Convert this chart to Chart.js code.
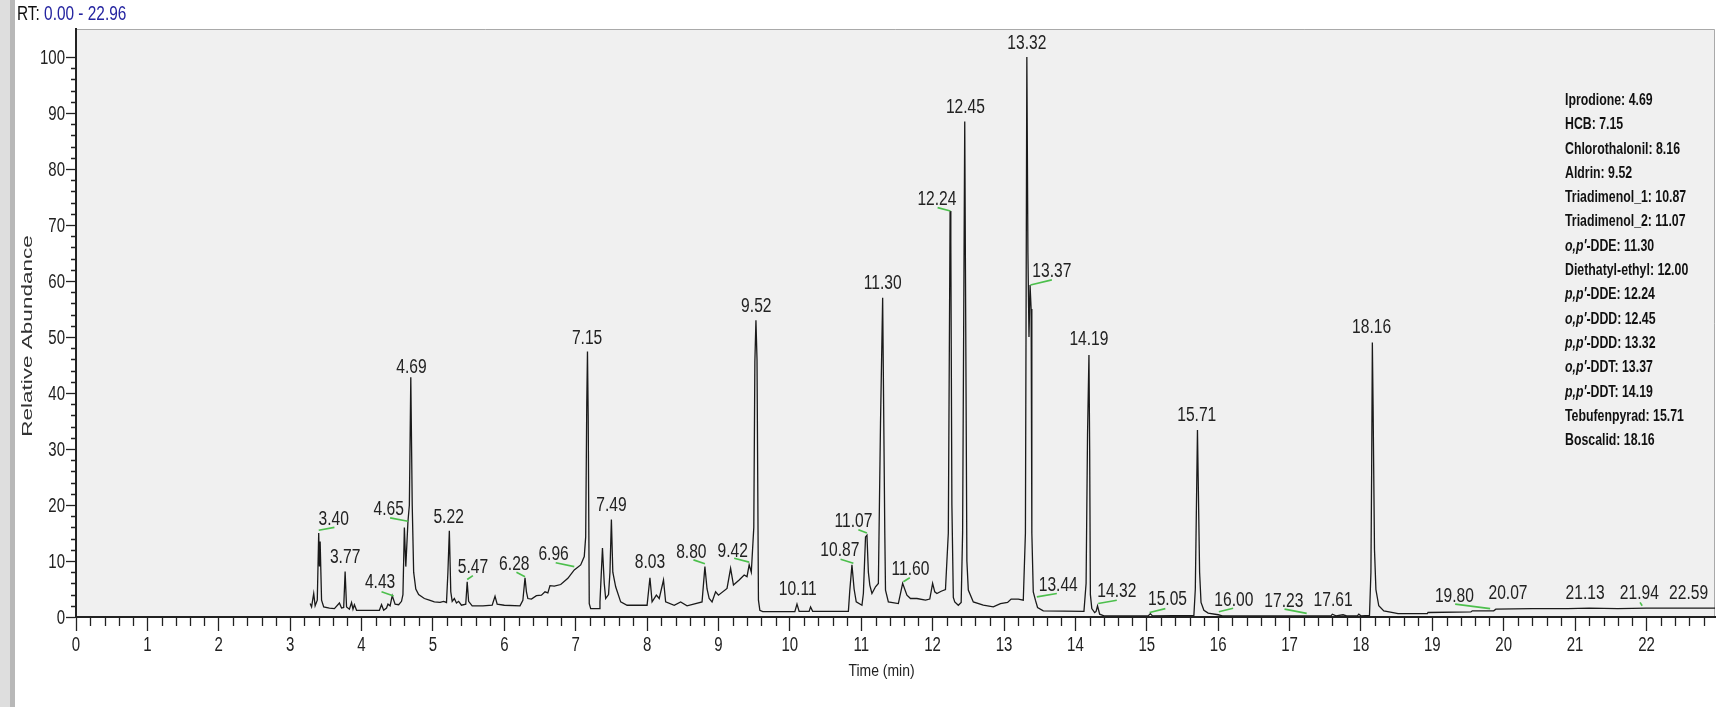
<!DOCTYPE html>
<html>
<head>
<meta charset="utf-8">
<script src="https://cdn.jsdelivr.net/npm/chart.js@4.4.0/dist/chart.umd.min.js"></script>
<style>
  body { margin: 0; width: 1716px; height: 707px; overflow: hidden; background: #fff; position: relative; }
  canvas { position: absolute; left: 0; top: 0; }
  .strip1 { position: absolute; left: 0; top: 0; width: 10px; height: 707px; background: #dedede; }
  .strip2 { position: absolute; left: 10px; top: 0; width: 5px; height: 707px; background: #b8b8b8; }
  .rt { position: absolute; left: 17px; top: 2px; font: 20px 'Liberation Sans', Arial, sans-serif; color: #111;
        white-space: nowrap; transform: scaleX(0.77); transform-origin: 0 0; }
  .rt span { color: #2424a0; }
  .legend { position: absolute; left: 1565px; top: 88px; font: bold 16px 'Liberation Sans', Arial, sans-serif; color: #111;
            line-height: 24.3px; white-space: nowrap; transform: scaleX(0.77); transform-origin: 0 0; }
</style>
</head>
<body>
<canvas id="chromChart" width="1716" height="707"></canvas>
<div class="strip1"></div><div class="strip2"></div>
<div class="rt">RT: <span>0.00 - 22.96</span></div>
<div class="legend">
  Iprodione: 4.69<br>
  HCB: 7.15<br>
  Chlorothalonil: 8.16<br>
  Aldrin: 9.52<br>
  Triadimenol_1: 10.87<br>
  Triadimenol_2: 11.07<br>
  <i>o,p′</i>-DDE: 11.30<br>
  Diethatyl-ethyl: 12.00<br>
  <i>p,p′</i>-DDE: 12.24<br>
  <i>o,p′</i>-DDD: 12.45<br>
  <i>p,p′</i>-DDD: 13.32<br>
  <i>o,p′</i>-DDT: 13.37<br>
  <i>p,p′</i>-DDT: 14.19<br>
  Tebufenpyrad: 15.71<br>
  Boscalid: 18.16
</div>
<script>
// trace: retention time (min) and relative abundance (%)
const rtMin = [
  3.28, 3.30, 3.33, 3.35, 3.38, 3.40, 3.41, 3.42, 3.44, 3.47, 3.55, 3.62, 3.69, 3.72, 3.75, 3.77, 3.79, 3.83, 3.86, 3.88,
  3.90, 3.93, 4.00, 4.25, 4.28, 4.31, 4.35, 4.37, 4.40, 4.43, 4.47, 4.52, 4.56, 4.58, 4.60, 4.62, 4.65, 4.67, 4.69, 4.71,
  4.73, 4.76, 4.80, 4.88, 4.95, 5.02, 5.10, 5.15, 5.19, 5.21, 5.23, 5.25, 5.27, 5.30, 5.33, 5.36, 5.40, 5.46, 5.48, 5.50,
  5.55, 5.70, 5.83, 5.87, 5.90, 6.00, 6.22, 6.26, 6.29, 6.31, 6.33, 6.38, 6.45, 6.52, 6.57, 6.61, 6.64, 6.70, 6.79, 6.89,
  6.98, 7.07, 7.12, 7.14, 7.155, 7.165, 7.175, 7.19, 7.21, 7.33, 7.34, 7.375, 7.40, 7.42, 7.46, 7.48, 7.50, 7.52, 7.56, 7.63,
  7.72, 8.00, 8.04, 8.07, 8.13, 8.17, 8.23, 8.26, 8.38, 8.47, 8.56, 8.77, 8.81, 8.84, 8.87, 8.91, 8.96, 9.00, 9.12, 9.17,
  9.21, 9.29, 9.36, 9.40, 9.43, 9.46, 9.495, 9.51, 9.525, 9.54, 9.56, 9.58, 9.62, 10.07, 10.10, 10.13, 10.27, 10.29, 10.32, 10.82,
  10.84, 10.87, 10.90, 10.93, 11.01, 11.03, 11.06, 11.08, 11.10, 11.12, 11.15, 11.20, 11.24, 11.27, 11.30, 11.33, 11.34, 11.38, 11.52, 11.58,
  11.64, 11.69, 11.78, 11.90, 11.96, 12.00, 12.03, 12.06, 12.12, 12.18, 12.22, 12.245, 12.255, 12.27, 12.29, 12.31, 12.36, 12.40, 12.42, 12.45,
  12.46, 12.48, 12.50, 12.57, 12.71, 12.85, 12.95, 13.05, 13.10, 13.20, 13.27, 13.30, 13.32, 13.335, 13.35, 13.365, 13.38, 13.39, 13.41, 13.44,
  13.47, 13.55, 14.12, 14.15, 14.17, 14.19, 14.20, 14.21, 14.23, 14.27, 14.29, 14.31, 14.34, 14.40, 15.02, 15.05, 15.08, 15.66, 15.68, 15.70,
  15.71, 15.72, 15.74, 15.76, 15.80, 15.86, 16.00, 16.06, 17.58, 17.60, 17.65, 17.75, 17.80, 17.95, 17.97, 18.00, 18.12, 18.14, 18.15, 18.16,
  18.17, 18.19, 18.21, 18.25, 18.32, 18.45, 18.52, 18.93, 18.94, 19.54, 19.56, 19.86, 19.89, 20.40, 20.90, 21.20, 21.60, 22.00, 22.50, 22.96
];
const abundance = [
  2.4, 1.8, 4.2, 2.0, 3.0, 15.0, 9.0, 13.5, 3.0, 1.8, 1.6, 1.5, 2.5, 1.6, 1.7, 8.1, 1.8, 1.4, 2.6, 1.4,
  2.2, 1.2, 1.2, 1.2, 2.2, 1.2, 1.6, 2.3, 2.0, 3.8, 2.3, 2.2, 2.8, 4.0, 16.0, 9.0, 17.0, 20.0, 42.8, 20.0,
  8.0, 5.0, 4.0, 3.3, 3.0, 2.7, 2.6, 2.8, 2.6, 8.0, 15.4, 4.5, 2.8, 3.3, 2.5, 2.8, 2.1, 2.3, 6.3, 2.8,
  2.0, 2.0, 2.1, 3.7, 2.3, 2.1, 2.0, 3.0, 7.0, 4.5, 3.3, 3.2, 3.8, 3.9, 4.5, 4.3, 5.6, 5.5, 5.8, 6.9,
  8.4, 9.3, 10.8, 14.3, 38.0, 47.4, 36.0, 2.4, 1.5, 1.5, 2.7, 12.3, 6.0, 3.3, 4.0, 8.0, 17.4, 8.0, 5.4, 2.7,
  2.1, 2.1, 7.0, 2.7, 3.9, 3.3, 6.6, 2.7, 2.1, 2.7, 2.0, 2.7, 9.0, 5.0, 3.3, 2.7, 4.5, 3.9, 5.1, 8.7,
  5.7, 6.6, 7.5, 7.2, 9.3, 8.0, 16.0, 45.6, 53.0, 46.0, 3.0, 1.2, 0.95, 0.95, 2.3, 1.0, 1.0, 1.8, 1.0, 1.0,
  4.8, 9.3, 5.0, 2.7, 2.1, 4.2, 14.3, 14.6, 8.0, 5.7, 4.2, 5.4, 6.0, 34.6, 57.0, 15.0, 4.8, 2.7, 2.4, 6.0,
  3.9, 3.3, 3.3, 3.0, 3.2, 6.0, 4.5, 4.2, 4.6, 4.9, 15.0, 72.5, 67.0, 20.0, 3.5, 2.7, 2.1, 2.6, 15.0, 88.5,
  62.0, 10.0, 4.8, 2.7, 2.1, 1.8, 2.4, 2.6, 3.2, 3.2, 3.0, 15.0, 100.0, 65.0, 50.0, 59.3, 55.0, 15.0, 4.5, 3.0,
  1.7, 1.1, 1.0, 6.0, 32.5, 46.8, 30.0, 4.0, 1.5, 0.8, 1.0, 2.0, 0.5, 0.2, 0.2, 0.6, 0.2, 0.3, 5.0, 23.9,
  33.4, 25.0, 8.0, 2.6, 1.2, 0.7, 0.4, 0.2, 0.2, 0.5, 0.2, 0.4, 0.2, 0.2, 0.5, 0.2, 0.3, 8.0, 25.7, 49.0,
  38.0, 12.0, 4.9, 2.0, 1.1, 0.8, 0.6, 0.6, 0.8, 0.9, 1.1, 1.1, 1.4, 1.5, 1.5, 1.6, 1.5, 1.6, 1.6, 1.6
];

// peak annotations: text, label centre time, label baseline abundance
const peakText = ['3.40', '3.77', '4.43', '4.65', '4.69', '5.22', '5.47', '6.28', '6.96', '7.15', '7.49', '8.03', '8.80', '9.42',
  '9.52', '10.11', '10.87', '11.07', '11.30', '11.60', '12.24', '12.45', '13.32', '13.37', '13.44', '14.19', '14.32', '15.05',
  '15.71', '16.00', '17.23', '17.61', '18.16', '19.80', '20.07', '21.13', '21.94', '22.59'];
const peakTextRt = [3.61, 3.77, 4.26, 4.38, 4.70, 5.22, 5.56, 6.14, 6.69, 7.16, 7.50, 8.04, 8.62, 9.20,
  9.53, 10.11, 10.70, 10.89, 11.30, 11.69, 12.06, 12.46, 13.32, 13.67, 13.76, 14.19, 14.58, 15.29,
  15.70, 16.22, 16.92, 17.61, 18.15, 19.31, 20.06, 21.14, 21.90, 22.59];
const peakTextAb = [16.4, 9.6, 5.1, 18.3, 43.6, 16.7, 7.8, 8.4, 10.2, 48.8, 19.0, 8.7, 10.6, 10.8,
  54.5, 3.9, 10.9, 16.0, 58.5, 7.5, 73.6, 90.0, 101.5, 60.7, 4.6, 48.6, 3.6, 2.1,
  35.0, 2.0, 1.8, 2.0, 50.7, 2.6, 3.2, 3.2, 3.2, 3.2];

// green marker strokes under offset labels: [rt1, ab1, rt2, ab2]
const markerLines = [
  [3.40, 15.5, 3.62, 16.0], [4.28, 4.5, 4.45, 3.75], [4.40, 17.7, 4.65, 17.1], [5.48, 6.7, 5.56, 7.4],
  [6.17, 8.0, 6.29, 7.2], [6.72, 9.7, 6.98, 9.0], [8.65, 10.2, 8.81, 9.5], [9.22, 10.5, 9.43, 9.8],
  [10.71, 10.3, 10.89, 9.6], [10.96, 15.6, 11.08, 15.0], [11.59, 6.3, 11.68, 7.0], [12.07, 73.1, 12.25, 72.5],
  [13.37, 59.3, 13.67, 60.2], [13.46, 3.6, 13.74, 4.2], [14.32, 2.4, 14.58, 3.0], [15.04, 0.8, 15.26, 1.5],
  [16.01, 0.95, 16.21, 1.55], [16.93, 1.4, 17.24, 0.65], [19.32, 2.3, 19.81, 1.5], [21.91, 2.6, 21.94, 2.0]
];

const xTickLabels = ['0', '1', '2', '3', '4', '5', '6', '7', '8', '9', '10', '11', '12', '13', '14', '15', '16', '17', '18', '19', '20', '21', '22'];
const yTickLabels = ['0', '10', '20', '30', '40', '50', '60', '70', '80', '90', '100'];

const FONT = "'Liberation Sans', Arial, sans-serif";

// text squeezed horizontally, the way the instrument software prints it
function squeezed(ctx, text, px, py, size, sx, align, baseline) {
  ctx.save();
  ctx.translate(px, py);
  ctx.scale(sx, 1);
  ctx.font = size + 'px ' + FONT;
  ctx.textAlign = align;
  ctx.textBaseline = baseline;
  ctx.fillText(text, 0, 0);
  ctx.restore();
}

const chromPlugin = {
  id: 'chrom',
  beforeDraw(chart) {
    const { ctx, chartArea: a } = chart;
    ctx.save();
    ctx.fillStyle = '#f0f0f0';
    ctx.fillRect(a.left, a.top, a.right - a.left, a.bottom - a.top);
    ctx.strokeStyle = '#a9a9a9';
    ctx.lineWidth = 1;
    ctx.beginPath();
    ctx.moveTo(a.left, a.top + 0.5);
    ctx.lineTo(a.right - 0.5, a.top + 0.5);
    ctx.lineTo(a.right - 0.5, a.bottom);
    ctx.stroke();
    ctx.restore();
  },
  afterDraw(chart) {
    const { ctx, scales: { x, y }, chartArea: a } = chart;
    ctx.save();
    // minor ticks
    ctx.strokeStyle = '#222';
    ctx.lineWidth = 1.3;
    ctx.beginPath();
    for (let i = 1; i * 0.2 <= 22.96; i++) {
      if (i % 5 === 0) continue;
      const px = Math.round(x.getPixelForValue(i * 0.2)) + 0.5;
      ctx.moveTo(px, a.bottom);
      ctx.lineTo(px, a.bottom + 9);
    }
    for (let j = 1; j < 50; j++) {
      if (j % 5 === 0) continue;
      const py = Math.round(y.getPixelForValue(j * 2)) + 0.5;
      ctx.moveTo(a.left - 5, py);
      ctx.lineTo(a.left, py);
    }
    ctx.stroke();

    // tick labels and x title
    ctx.fillStyle = '#222';
    xTickLabels.forEach(l => squeezed(ctx, l, x.getPixelForValue(Number(l)), a.bottom + 28, 20, 0.75, 'center', 'middle'));
    yTickLabels.forEach(l => squeezed(ctx, l, a.left - 11, y.getPixelForValue(Number(l)) + 1, 20, 0.75, 'right', 'middle'));
    squeezed(ctx, 'Time (min)', (a.left + a.right) / 2 - 14, 671, 17, 0.82, 'center', 'middle');

    // green markers
    ctx.strokeStyle = '#4cbf4c';
    ctx.lineWidth = 1.6;
    markerLines.forEach(m => {
      ctx.beginPath();
      ctx.moveTo(x.getPixelForValue(m[0]), y.getPixelForValue(m[1]));
      ctx.lineTo(x.getPixelForValue(m[2]), y.getPixelForValue(m[3]));
      ctx.stroke();
    });

    // peak labels
    ctx.fillStyle = '#222';
    peakText.forEach((t, i) => {
      squeezed(ctx, t, x.getPixelForValue(peakTextRt[i]), y.getPixelForValue(peakTextAb[i]), 20, 0.78, 'center', 'alphabetic');
    });

    // y axis title, stretched along its length like the original
    ctx.translate(28, (a.top + a.bottom) / 2 + 13);
    ctx.rotate(-Math.PI / 2);
    ctx.scale(1.5, 1);
    ctx.font = '15px ' + FONT;
    ctx.textAlign = 'center';
    ctx.textBaseline = 'middle';
    ctx.fillStyle = '#333';
    ctx.fillText('Relative Abundance', 0, 0);
    ctx.restore();
  }
};

const ctx = document.getElementById('chromChart');
new Chart(ctx, {
  type: 'line',
  data: {
    datasets: [{
      data: rtMin.map((t, i) => ({ x: t, y: abundance[i] })),
      borderColor: '#1a1a1a',
      borderWidth: 1.3,
      pointRadius: 0,
      tension: 0,
      fill: false
    }]
  },
  options: {
    responsive: false,
    animation: false,
    layout: { padding: { top: 29, right: 1, left: 0, bottom: 0 } },
    plugins: { legend: { display: false }, tooltip: { enabled: false } },
    scales: {
      x: {
        type: 'linear',
        min: 0,
        max: 22.96,
        afterBuildTicks: s => { s.ticks = xTickLabels.map(v => ({ value: Number(v) })); },
        afterFit: s => { s.height = 90; },
        grid: { display: true, drawOnChartArea: false, tickLength: 14, tickColor: '#222', tickWidth: 1.3 },
        border: { display: true, color: '#222', width: 2 },
        ticks: { display: false }
      },
      y: {
        min: 0,
        max: 105,
        afterBuildTicks: s => { s.ticks = yTickLabels.map(v => ({ value: Number(v) })); },
        afterFit: s => { s.width = 76; },
        grid: { display: true, drawOnChartArea: false, tickLength: 10, tickColor: '#222', tickWidth: 1.3 },
        border: { display: true, color: '#222', width: 2 },
        ticks: { display: false }
      }
    }
  },
  plugins: [chromPlugin]
});
</script>
</body>
</html>
